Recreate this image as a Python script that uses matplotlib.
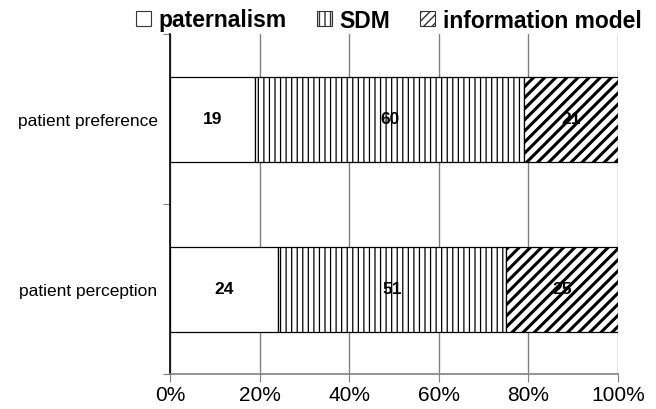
import matplotlib.pyplot as plt
from matplotlib.patches import Patch

plt.rcParams['font.family'] = ['Liberation Sans', 'DejaVu Sans']

# Data
categories = ["patient perception", "patient preference"]
paternalism = [24, 19]
sdm = [51, 60]
information = [25, 21]
series_names = ["paternalism", "SDM", "information model"]
hatches = ["", "|||", "///"]
hatch_widths = [1.0, 0.9, 2.2]

fig = plt.figure(figsize=(6.56, 4.10), dpi=100)
ax = fig.add_axes([170 / 656, 35 / 410, 448 / 656, 340 / 410])

ypos = list(range(len(categories)))
left = [0] * len(categories)
for vals, h, hw in zip([paternalism, sdm, information], hatches, hatch_widths):
    plt.rcParams['hatch.linewidth'] = hw
    ax.barh(ypos, vals, left=left, height=0.5, color='white',
            edgecolor='black', linewidth=0.9, hatch=h, zorder=3)
    for y, v, l in zip(ypos, vals, left):
        ax.text(l + v / 2, y, f"{v}", ha='center', va='center',
                fontsize=12.5, fontweight='bold', zorder=4)
    left = [a + b for a, b in zip(left, vals)]

ax.set_xlim(0, 100)
ax.set_ylim(-0.5, 1.5)
ax.set_xticks([0, 20, 40, 60, 80, 100])
ax.set_xticklabels([f"{t}%" for t in [0, 20, 40, 60, 80, 100]], fontsize=15)
ax.set_yticks([-0.5, 0.5, 1.5])
ax.set_yticklabels([])
ax.set_yticks(ypos, minor=True)
ax.set_yticklabels(categories, minor=True, fontsize=12.5)
ax.tick_params(axis='y', which='minor', length=0, pad=9)
ax.tick_params(axis='y', which='major', length=5, color='#808080')
ax.tick_params(axis='x', length=6, color='#808080', pad=2)

ax.grid(True, axis='x', color='#808080', linewidth=1, zorder=0)
ax.set_axisbelow(True)
for s in ['top', 'right']:
    ax.spines[s].set_visible(False)
ax.spines['left'].set_color('black')
ax.spines['left'].set_linewidth(1.2)
ax.spines['bottom'].set_color('#808080')
ax.spines['bottom'].set_linewidth(1.2)

plt.rcParams['hatch.linewidth'] = 1.0
handles = [Patch(facecolor='white', edgecolor='#333333', hatch=h, linewidth=0.8)
           for h in ["", "|||", "////"]]
fig.legend(handles, series_names, loc='center', bbox_to_anchor=(389 / 656, 1 - 21 / 410),
           ncol=3, frameon=False, prop={'weight': 'bold', 'size': 16.5},
           handlelength=0.65, handleheight=0.65, handletextpad=0.35, columnspacing=1.3)

plt.savefig("out.png", dpi=100)
